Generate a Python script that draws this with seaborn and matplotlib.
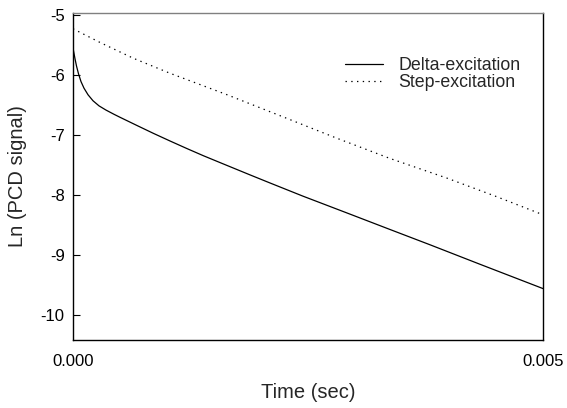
import matplotlib
matplotlib.use("Agg")
import matplotlib.pyplot as plt
import seaborn as sns

sns.set_style("ticks")
plt.rcParams['font.family'] = ['Liberation Sans', 'DejaVu Sans']

# Data
t_delta = [0.0, 0.0000106, 0.0000213, 0.0000372, 0.0000585, 0.0000851, 0.000117,
           0.00016, 0.000213, 0.000277, 0.000351, 0.000436, 0.0005, 0.000678,
           0.000854, 0.001032, 0.00121, 0.001386, 0.001564, 0.001883, 0.002096,
           0.002447, 0.002915, 0.003372, 0.003798, 0.00433, 0.005]
y_delta = [-5.55, -5.64, -5.73, -5.85, -5.98, -6.11, -6.22,
           -6.33, -6.43, -6.515, -6.585, -6.655, -6.705, -6.84,
           -6.972, -7.10, -7.225, -7.345, -7.46, -7.665, -7.80,
           -8.02, -8.30, -8.575, -8.83, -9.155, -9.56]
t_step = [0.0, 0.00029, 0.00064, 0.00103, 0.00164, 0.00227, 0.0028, 0.00337,
          0.00398, 0.00451, 0.005]
y_step = [-5.23, -5.46, -5.72, -5.97, -6.33, -6.72, -7.05, -7.39,
          -7.72, -8.03, -8.33]
series_names = ["Delta-excitation", "Step-excitation"]
y_ticks = [-5, -6, -7, -8, -9, -10]
x_ticks = [0.0, 0.005]
x_ticklabels = ["0.000", "0.005"]

fig = plt.figure(figsize=(5.67, 4.08), dpi=100)
ax = fig.add_axes([73/567, 1-340/408, 470/567, 327/408])

sns.lineplot(x=t_delta, y=y_delta, ax=ax, color="black", lw=0.9,
             label=series_names[0], estimator=None, sort=False)
sns.lineplot(x=t_step, y=y_step, ax=ax, color="black", lw=0.9,
             linestyle=(0, (1.1, 3.5)), label=series_names[1],
             estimator=None, sort=False)

ax.set_xlim(0, 0.005)
ax.set_ylim(-10.417, -4.967)
ax.set_yticks(y_ticks)
ax.set_yticklabels([f"{v}" for v in y_ticks])
ax.set_xticks(x_ticks)
ax.set_xticklabels(x_ticklabels)
ax.tick_params(axis='y', direction='in', length=5, width=0.8, pad=6,
               labelsize=12, colors='black')
ax.tick_params(axis='x', length=0, pad=10, labelsize=12, colors='black')

for s in ['left', 'right', 'bottom']:
    ax.spines[s].set_visible(True)
    ax.spines[s].set_color('black')
    ax.spines[s].set_linewidth(1.0)
ax.spines['top'].set_visible(True)
ax.spines['top'].set_color('#808080')
ax.spines['top'].set_linewidth(1.0)

ax.set_xlabel("Time (sec)", fontsize=14.5)
ax.set_ylabel("Ln (PCD signal)", fontsize=14.5)
ax.xaxis.set_label_coords(0.5, (340-383)/327)
ax.yaxis.set_label_coords((27-73)/470, 0.5)

leg = ax.legend(frameon=False, loc='upper left',
                bbox_to_anchor=((345-73)/470, 1-(57-13)/327),
                borderpad=0, borderaxespad=0, handlelength=2.15,
                handletextpad=0.85, labelspacing=0.0, fontsize=12.8)

fig.savefig("out.png", dpi=100)
